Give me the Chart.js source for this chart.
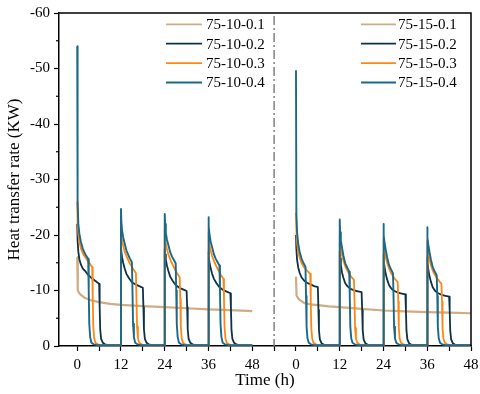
<!DOCTYPE html>
<html>
<head>
<meta charset="utf-8">
<script src="https://cdn.jsdelivr.net/npm/chart.js@4"></script>
<style>
  html, body { margin: 0; padding: 0; background: #fff; }
  #wrap { width: 480px; height: 394px; }
</style>
</head>
<body>
<div id="wrap"><canvas id="myChart" width="480" height="394"></canvas></div>
<script>
// ---- data ----
// both panels share one time axis, the right one starts at 60 h
const cycleStarts = [0, 12, 24, 36];
const panelOffsets = [0, 60];
const separatorTime = 54;
const xTicks = [0, 6, 12, 18, 24, 30, 36, 42, 48, 54, 60, 66, 72, 78, 84, 90, 96, 102, 108];
const xTickLabels = ["0", "12", "24", "36", "48"];
const yTicks = [-60, -50, -40, -30, -20, -10, 0];
const yMinorTicks = [-55, -45, -35, -25, -15, -5];
const restRate = -0.15;

const names10 = ["75-10-0.1", "75-10-0.2", "75-10-0.3", "75-10-0.4"];
const names15 = ["75-15-0.1", "75-15-0.2", "75-15-0.3", "75-15-0.4"];
const lineColors = ["rgba(204,163,118,0.9)", "#0e3245", "#ff8614", "#1b6989"];
const lineWidths = [2.2, 1.8, 1.8, 1.9];

// 75-10 : x.1 runs continuously
const tan10Time = [0, 0.15, 0.5, 1, 2, 4, 6, 9, 12, 18, 24, 30, 36, 42, 48];
const tan10Rate = [-16, -10, -9.6, -9.2, -8.7, -8.2, -7.9, -7.6, -7.4, -7.2, -7.0, -6.8, -6.6, -6.45, -6.3];

// 75-10-0.2
const dark10Time = [0, 0.1, 0.3, 0.6, 1.0, 1.5, 2.2, 3.0, 4.0, 5.0, 6.0];
const dark10Cycles = [
  [-22, -19, -17, -15.6, -14.7, -14.0, -13.5, -12.8, -12.2, -11.7, -11.2],
  [-18, -17, -16, -15, -14, -13, -12.2, -11.5, -11.1, -10.8, -10.5],
  [-17.5, -16.5, -15.5, -14.5, -13.5, -12.5, -11.7, -11.0, -10.5, -10.2, -9.9],
  [-17, -16, -15, -14, -13, -12.1, -11.3, -10.6, -10.1, -9.8, -9.5]
];
const dark10TailTime = [6.15, 6.3, 6.55, 7.0, 7.6, 8.5];
const dark10Tail = [-7, -3, -1.3, -0.6, -0.3, -0.15];

// 75-10-0.3
const orange10Time = [0, 0.1, 0.3, 0.6, 1.0, 1.7, 2.5, 3.3, 4.1];
const orange10Cycles = [
  [-26, -22.5, -20.2, -18.8, -17.6, -16.5, -15.7, -15.0, -14.2],
  [-21.5, -20.0, -19.0, -18.1, -17.0, -15.9, -14.8, -13.9, -13.1],
  [-21.0, -19.5, -18.5, -17.5, -16.5, -15.3, -14.2, -13.2, -12.4],
  [-20.5, -19.1, -18.1, -17.2, -16.2, -15.0, -13.9, -12.9, -12.1]
];
const orange10TailTime = [4.25, 4.4, 4.65, 5.0, 5.6, 6.5];
const orange10Tail = [-8.5, -3.5, -1.4, -0.6, -0.3, -0.15];

// 75-10-0.4
const teal10Time = [0, 0.1, 0.3, 0.6, 1.0, 1.5, 2.0, 2.5, 3.0];
const teal10Cycles = [
  [-54, -26, -22, -20.2, -18.8, -17.6, -16.8, -16.2, -15.7],
  [-24.7, -22.5, -20.8, -19.6, -18.5, -17.2, -16.4, -15.7, -15.1],
  [-23.8, -22.0, -20.4, -19.2, -18.2, -16.9, -16.1, -15.5, -14.9],
  [-23.2, -21.5, -20.0, -18.8, -17.8, -16.5, -15.7, -15.1, -14.5]
];
const teal10TailTime = [3.15, 3.3, 3.55, 3.9, 4.5, 5.5];
const teal10Tail = [-10, -4, -1.6, -0.6, -0.3, -0.15];

// 75-15 : x.1 runs continuously
const tan15Time = [0, 0.15, 0.5, 1, 2.4, 4, 6, 9, 12, 18, 24, 30, 36, 42, 48];
const tan15Rate = [-12.5, -9.1, -8.7, -8.3, -7.7, -7.5, -7.35, -7.15, -7.0, -6.7, -6.4, -6.25, -6.1, -6.0, -5.9];

// 75-15-0.2
const dark15Time = [0, 0.1, 0.3, 0.6, 1.0, 1.5, 2.2, 3.0, 4.0, 5.0, 6.0];
const dark15Cycles = [
  [-20, -17.5, -15.5, -14.2, -13.2, -12.4, -11.8, -11.4, -11.1, -10.8, -10.6],
  [-17, -15.8, -14.6, -13.3, -12.3, -11.3, -10.7, -10.3, -10.0, -9.85, -9.7],
  [-16.5, -15.4, -14.2, -13.0, -12.0, -11.0, -10.3, -9.9, -9.6, -9.45, -9.3],
  [-16, -15.0, -13.8, -12.6, -11.6, -10.6, -9.9, -9.5, -9.2, -9.05, -8.9]
];
const dark15TailTime = [6.15, 6.3, 6.55, 7.0, 7.6, 8.5];
const dark15Tail = [-6.5, -2.8, -1.2, -0.5, -0.25, -0.15];

// 75-15-0.3
const orange15Time = [0, 0.1, 0.3, 0.6, 1.0, 1.5, 2.2, 3.0, 3.9];
const orange15Cycles = [
  [-24, -21, -18.5, -17.0, -15.9, -15.0, -14.2, -13.6, -13.0],
  [-20, -18.6, -17.4, -16.4, -15.4, -14.4, -13.4, -12.6, -11.9],
  [-19.5, -18.2, -17.0, -16.0, -15.0, -14.0, -13.0, -12.2, -11.5],
  [-19, -17.8, -16.6, -15.6, -14.6, -13.6, -12.7, -11.9, -11.2]
];
const orange15TailTime = [4.05, 4.2, 4.45, 4.8, 5.4, 6.3];
const orange15Tail = [-8, -3.2, -1.3, -0.6, -0.3, -0.15];

// 75-15-0.4
const teal15Time = [0, 0.1, 0.3, 0.6, 1.0, 1.5, 2.0, 2.6];
const teal15Cycles = [
  [-49.7, -24, -20.5, -18.5, -17.0, -15.8, -15.0, -14.3],
  [-22.8, -20.5, -19.0, -17.8, -16.3, -14.9, -14.2, -13.4],
  [-22.0, -20.0, -18.6, -17.4, -16.0, -14.6, -13.9, -13.1],
  [-21.4, -19.5, -18.2, -17.0, -15.6, -14.2, -13.5, -12.7]
];
const teal15TailTime = [2.75, 2.9, 3.15, 3.5, 4.1, 5.0];
const teal15Tail = [-9, -3.5, -1.4, -0.6, -0.3, -0.15];

// ---- build the point lists ----
function continuousSeries(offset, times, rates) {
  return times.map((t, i) => ({ x: offset + t, y: rates[i] }));
}

function cycledSeries(offset, times, cycles, tailTimes, tail) {
  let pts = [];
  cycleStarts.forEach((start, c) => {
    let t0 = offset + start;
    if (c > 0) pts.push({ x: t0, y: restRate });
    times.forEach((t, i) => pts.push({ x: t0 + t, y: cycles[c][i] }));
    tailTimes.forEach((t, i) => pts.push({ x: t0 + t, y: tail[i] }));
  });
  pts.push({ x: offset + 48, y: restRate });
  return pts;
}

let panelData = [
  [
    continuousSeries(panelOffsets[0], tan10Time, tan10Rate),
    cycledSeries(panelOffsets[0], dark10Time, dark10Cycles, dark10TailTime, dark10Tail),
    cycledSeries(panelOffsets[0], orange10Time, orange10Cycles, orange10TailTime, orange10Tail),
    cycledSeries(panelOffsets[0], teal10Time, teal10Cycles, teal10TailTime, teal10Tail)
  ],
  [
    continuousSeries(panelOffsets[1], tan15Time, tan15Rate),
    cycledSeries(panelOffsets[1], dark15Time, dark15Cycles, dark15TailTime, dark15Tail),
    cycledSeries(panelOffsets[1], orange15Time, orange15Cycles, orange15TailTime, orange15Tail),
    cycledSeries(panelOffsets[1], teal15Time, teal15Cycles, teal15TailTime, teal15Tail)
  ]
];

let datasets = [];
[names10, names15].forEach((names, p) => {
  names.forEach((name, i) => {
    datasets.push({
      label: name,
      data: panelData[p][i],
      borderColor: lineColors[i],
      borderWidth: lineWidths[i],
      pointRadius: 0,
      tension: 0,
      borderJoinStyle: "round",
      clip: false,
      order: 3 - i
    });
  });
});

const fontFamily = "'Liberation Serif', 'Times New Roman', serif";

// frame, separator, minor ticks and the two legends
const decorPlugin = {
  id: "decor",
  afterDraw(chart) {
    let ctx = chart.ctx;
    let area = chart.chartArea;
    let xs = chart.scales.x;
    let ys = chart.scales.y;
    ctx.save();

    // top and right frame
    ctx.strokeStyle = "#000";
    ctx.lineWidth = 1.5;
    ctx.beginPath();
    ctx.moveTo(area.left, area.top);
    ctx.lineTo(area.right, area.top);
    ctx.lineTo(area.right, area.bottom);
    ctx.stroke();

    // minor y ticks
    ctx.lineWidth = 1.2;
    yMinorTicks.forEach(v => {
      let y = ys.getPixelForValue(v);
      ctx.beginPath();
      ctx.moveTo(area.left - 3, y);
      ctx.lineTo(area.left, y);
      ctx.stroke();
    });

    // dash-dot separator between the panels
    let sx = xs.getPixelForValue(separatorTime);
    ctx.strokeStyle = "#7a7a7a";
    ctx.lineWidth = 1.4;
    ctx.setLineDash([9, 3, 2, 3]);
    ctx.beginPath();
    ctx.moveTo(sx, area.top + 3);
    ctx.lineTo(sx, area.bottom);
    ctx.stroke();
    ctx.setLineDash([]);

    // legends
    ctx.font = "15px " + fontFamily;
    ctx.textBaseline = "middle";
    ctx.fillStyle = "#000";
    let legends = [
      { names: names10, x0: 166, x1: 202, tx: 206 },
      { names: names15, x0: 361, x1: 396, tx: 398 }
    ];
    legends.forEach(lg => {
      lg.names.forEach((name, i) => {
        let y = 24.3 + i * 19.4;
        ctx.strokeStyle = lineColors[i];
        ctx.lineWidth = 1.8;
        ctx.beginPath();
        ctx.moveTo(lg.x0, y);
        ctx.lineTo(lg.x1, y);
        ctx.stroke();
        ctx.fillText(name, lg.tx, y + 1);
      });
    });
    ctx.restore();
  }
};

const ctx = document.getElementById("myChart");

new Chart(ctx, {
  type: "line",
  data: { datasets: datasets },
  plugins: [decorPlugin],
  options: {
    responsive: false,
    animation: false,
    layout: { padding: { top: 10, right: 9, left: 0, bottom: 0 } },
    plugins: {
      legend: { display: false },
      tooltip: { enabled: false }
    },
    scales: {
      x: {
        type: "linear",
        min: -5,
        max: 108,
        afterBuildTicks: scale => {
          scale.ticks = xTicks.map(v => ({ value: v }));
        },
        afterFit: scale => {
          scale.height = 48;
          scale.paddingLeft = 0;
          scale.paddingRight = 0;
        },
        grid: {
          drawOnChartArea: false,
          tickLength: 5,
          tickColor: "#000",
          tickWidth: 1.2
        },
        border: { color: "#000", width: 1.5 },
        ticks: {
          autoSkip: false,
          maxRotation: 0,
          padding: 5,
          color: "#000",
          font: { family: fontFamily, size: 15 },
          callback: value => {
            if (value % 12 !== 0) return "";
            let local = value >= panelOffsets[1] ? value - panelOffsets[1] : value;
            return xTickLabels[local / 12];
          }
        },
        title: {
          display: true,
          text: "Time (h)",
          color: "#000",
          font: { family: fontFamily, size: 17 },
          padding: { top: 0, bottom: 3 }
        }
      },
      y: {
        min: -60,
        max: 0,
        reverse: true,
        afterBuildTicks: scale => {
          scale.ticks = yTicks.map(v => ({ value: v }));
        },
        afterFit: scale => {
          scale.width = 59;
        },
        grid: {
          drawOnChartArea: false,
          tickLength: 5,
          tickColor: "#000",
          tickWidth: 1.2
        },
        border: { color: "#000", width: 1.5 },
        ticks: {
          padding: 4,
          color: "#000",
          font: { family: fontFamily, size: 15 },
          callback: value => String(value)
        },
        title: {
          display: true,
          text: "Heat transfer rate (KW)",
          color: "#000",
          font: { family: fontFamily, size: 17 },
          padding: { top: 4, bottom: 0 }
        }
      }
    }
  }
});
</script>
</body>
</html>
